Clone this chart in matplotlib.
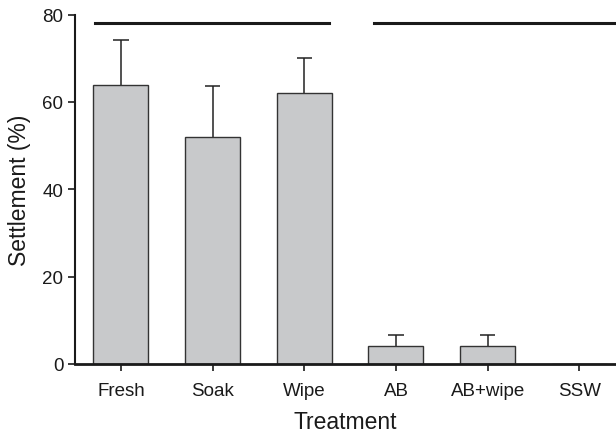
import matplotlib.pyplot as plt

plt.rcParams['font.family'] = ['Liberation Sans', 'DejaVu Sans']

treatments = ['Fresh', 'Soak', 'Wipe', 'AB', 'AB+wipe', 'SSW']
settlement = [64, 52, 62, 4, 4, 0]
err_upper = [10.3, 11.7, 8, 2.7, 2.7, 0]

# groups joined by lines (not significantly different)
group_lines = [(-0.28, 2.27), (2.76, 5.5)]
group_y = 78

fig = plt.figure(figsize=(6.16, 4.35), dpi=100)
ax = fig.add_axes([0.122, 0.161, 0.878, 0.803])

x = list(range(len(treatments)))
ax.bar(x, settlement, width=0.6, color='#c8c9cb', edgecolor='#333333', linewidth=1.0, zorder=2)

# upper-only error bars
cap = 0.085
for xi, v, e in zip(x, settlement, err_upper):
    if e > 0:
        ax.vlines(xi, v, v + e, color='#222222', linewidth=1.1, zorder=1)
        ax.hlines(v + e, xi - cap, xi + cap, color='#222222', linewidth=1.1, zorder=1)

for x0, x1 in group_lines:
    ax.plot([x0, x1], [group_y, group_y], color='#1a1a1a', linewidth=2.2, clip_on=False)

ax.set_xlim(-0.5, 5.4)
ax.set_ylim(0, 80)
ax.set_yticks([0, 20, 40, 60, 80])
ax.set_xticks(x)
ax.set_xticklabels(treatments)

ax.spines['top'].set_visible(False)
ax.spines['right'].set_visible(False)
ax.spines['left'].set_linewidth(1.5)
ax.spines['bottom'].set_linewidth(2.0)
ax.spines['left'].set_color('#1a1a1a')
ax.spines['bottom'].set_color('#1a1a1a')
ax.tick_params(axis='both', labelsize=13.5, direction='out', length=5, width=1.2, colors='#1a1a1a')
ax.tick_params(axis='x', pad=8)

ax.set_xlabel('Treatment', fontsize=16.5, color='#1a1a1a', labelpad=8)
ax.set_ylabel('Settlement (%)', fontsize=16.5, color='#1a1a1a', labelpad=8)

fig.savefig('out.png', dpi=100)
